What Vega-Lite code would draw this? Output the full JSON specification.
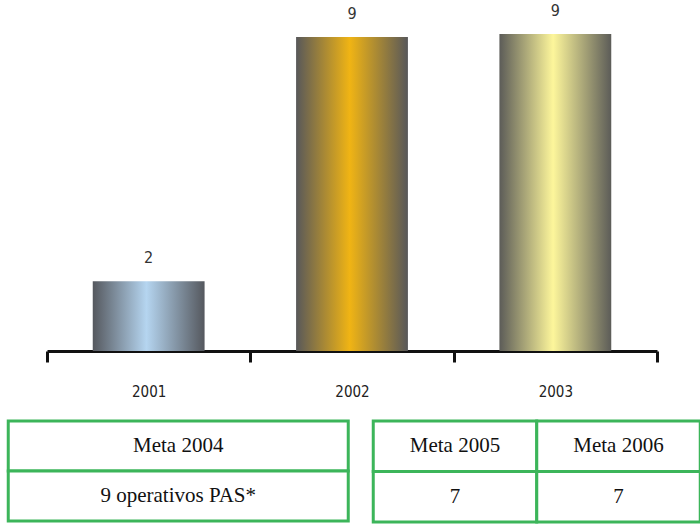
{
  "$schema": "https://vega.github.io/schema/vega-lite/v6.json",
  "padding": {"left": 6, "top": 2, "right": 0, "bottom": 0},
  "background": "white",
  "config": {"view": {"stroke": null}},
  "center": true,
  "spacing": 20,
  "datasets": {
    "bars": [
      {"year": "2001", "value": 2, "label": "2"},
      {"year": "2002", "value": 9, "label": "9"},
      {"year": "2003", "value": 9.08, "label": "9"}
    ],
    "t1": [
      {"col": "c1", "row": 1, "text": "Meta 2004"},
      {"col": "c1", "row": 2, "text": "9 operativos PAS*"}
    ],
    "t2": [
      {"col": "Meta 2005", "row": 1, "text": "Meta 2005"},
      {"col": "Meta 2006", "row": 1, "text": "Meta 2006"},
      {"col": "Meta 2005", "row": 2, "text": "7"},
      {"col": "Meta 2006", "row": 2, "text": "7"}
    ]
  },
  "vconcat": [
    {
      "width": 610,
      "height": 349,
      "data": {"name": "bars"},
      "encoding": {
        "x": {
          "field": "year", "type": "nominal",
          "scale": {"paddingInner": 0, "paddingOuter": 0},
          "axis": {
            "title": null, "labelAngle": 0,
            "domainColor": "#111", "domainWidth": 3,
            "tickColor": "#111", "tickWidth": 3, "tickSize": 11, "tickBand": "extent",
            "labelFont": "DejaVu Sans Condensed, DejaVu Sans, sans-serif", "labelFontSize": 15, "labelColor": "#222",
            "labelPadding": 22, "labelDx": -11
          }
        },
        "y": {"field": "value", "type": "quantitative", "scale": {"domain": [0, 10]},
              "axis": {"orient": "right", "title": null, "labels": false, "ticks": false, "domain": false, "grid": false, "minExtent": 6, "maxExtent": 6}}
      },
      "layer": [
        {
          "mark": {"type": "bar", "width": {"band": 0.55}},
          "encoding": {
            "color": {
              "condition": [
                {"test": "datum.year === '2001'", "value": {"gradient": "linear", "x1": 0, "x2": 1, "y1": 0, "y2": 0, "stops": [{"offset": 0, "color": "#55585e"}, {"offset": 0.48, "color": "#b5d5f0"}, {"offset": 1, "color": "#55585e"}]}},
                {"test": "datum.year === '2002'", "value": {"gradient": "linear", "x1": 0, "x2": 1, "y1": 0, "y2": 0, "stops": [{"offset": 0, "color": "#58585a"}, {"offset": 0.48, "color": "#f0b414"}, {"offset": 1, "color": "#58585a"}]}}
              ],
              "value": {"gradient": "linear", "x1": 0, "x2": 1, "y1": 0, "y2": 0, "stops": [{"offset": 0, "color": "#5c5c58"}, {"offset": 0.48, "color": "#fdf69b"}, {"offset": 1, "color": "#5c5c58"}]}
            }
          }
        },
        {
          "mark": {"type": "text", "baseline": "bottom", "dy": -15, "font": "DejaVu Sans Condensed, DejaVu Sans, sans-serif", "fontSize": 16, "color": "#333"},
          "encoding": {"text": {"field": "label"}}
        }
      ]
    },
    {
      "hconcat": [
        {
          "width": 340,
          "height": 100,
          "data": {"name": "t1"},
          "encoding": {
            "x": {"field": "col", "type": "nominal", "axis": null, "scale": {"paddingInner": 0, "paddingOuter": 0}},
            "y": {"field": "row", "type": "ordinal", "axis": null, "scale": {"paddingInner": 0, "paddingOuter": 0}}
          },
          "layer": [
            {"mark": {"type": "rect", "fill": "white", "stroke": "#3cb55a", "strokeWidth": 3}},
            {"mark": {"type": "text", "font": "Liberation Serif, Times New Roman, DejaVu Serif, serif", "fontSize": 21, "color": "#111"}, "encoding": {"text": {"field": "text"}}}
          ]
        },
        {
          "width": 327,
          "height": 101,
          "data": {"name": "t2"},
          "encoding": {
            "x": {"field": "col", "type": "nominal", "axis": null, "scale": {"paddingInner": 0, "paddingOuter": 0}},
            "y": {"field": "row", "type": "ordinal", "axis": null, "scale": {"paddingInner": 0, "paddingOuter": 0}}
          },
          "layer": [
            {"mark": {"type": "rect", "fill": "white", "stroke": "#3cb55a", "strokeWidth": 3}},
            {"mark": {"type": "text", "font": "Liberation Serif, Times New Roman, DejaVu Serif, serif", "fontSize": 21, "color": "#111"}, "encoding": {"text": {"field": "text"}}}
          ]
        }
      ],
      "spacing": 21
    }
  ]
}
